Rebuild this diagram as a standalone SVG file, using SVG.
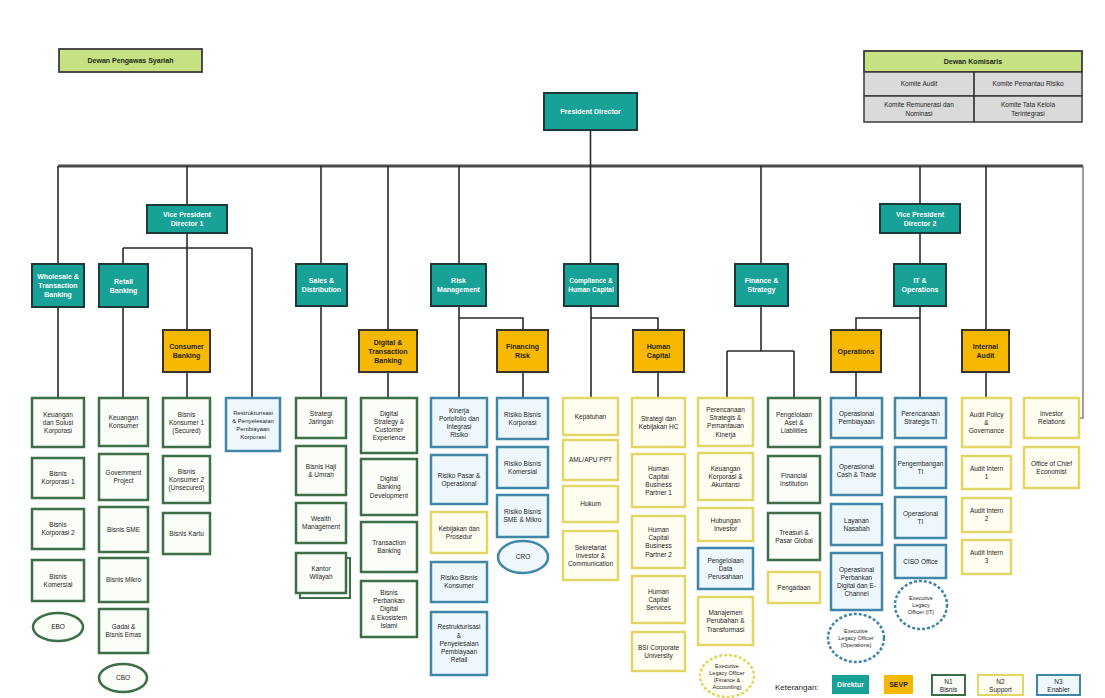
<svg xmlns="http://www.w3.org/2000/svg" width="1105" height="698" viewBox="0 0 1105 698">
<style>
text{font-family:"Liberation Sans",Arial,sans-serif;text-anchor:middle}
.t{fill:#17a197;stroke:#1e3a38;stroke-width:2}
.o{fill:#f6b800;stroke:#3a3328;stroke-width:2}
.g{fill:#fbfdf9;stroke:#3d6e48;stroke-width:2.5}
.y{fill:#fffef1;stroke:#e2d667;stroke-width:2.5}
.b{fill:#eef8fc;stroke:#3f86a8;stroke-width:2.5}
.hd{fill:#c5e184;stroke:#3b3b3b;stroke-width:1.8}
.gr{fill:#dadada;stroke:#3b3b3b;stroke-width:1.5}
.tw{fill:#fff;font-size:7px;font-weight:bold}
.to{fill:#2a2418;font-size:7px;font-weight:bold}
.td{fill:#1d1d1d;font-size:6.5px}
.te{fill:#1d1d1d;font-size:5.5px}
.ln{stroke:#2a2a2a;stroke-width:1.6;fill:none}
.lg{stroke:#888;stroke-width:1.6;fill:none}
</style>
<rect width="1105" height="698" fill="#fff"/>

<g id="connectors">
  <line class="ln" x1="58" y1="166" x2="1083" y2="166" style="stroke:#4a4a4a;stroke-width:3"/>
  <line class="ln" x1="590.5" y1="130" x2="590.5" y2="264"/>
  <path class="ln" d="M58 166V264M58 307V398"/>
  <path class="ln" d="M187 166V205M187 233V330M187 372V398"/>
  <path class="ln" d="M123 248H252M123 248V264M123 307V398M252 248V398"/>
  <path class="ln" d="M321 166V264M321 306V398"/>
  <path class="ln" d="M388 166V330M388 372V398"/>
  <path class="ln" d="M459 166V264M459 306V398M459 318H523V330M523 372V398"/>
  <path class="ln" d="M591 306V398M591 318H658V330M658 372V398"/>
  <path class="ln" d="M761 166V264M761 306V351M727 351H794M727 351V398M794 351V398"/>
  <path class="ln" d="M920 166V204M920 233V264M920 306V398M920 318H856V330M856 372V398"/>
  <path class="ln" d="M986 166V330M986 372V398"/>
  <path class="lg" d="M1083 166V418H1079"/>
</g>

<g id="dps"><rect class="hd" x="59" y="49" width="143" height="23"/><text class="to" x="130.5" y="63" style="fill:#1a2a10">Dewan Pengawas Syariah</text></g>

<g id="dewan-komisaris">
  <rect class="hd" x="864" y="51" width="218" height="21"/>
  <rect class="gr" x="864" y="72" width="218" height="24"/>
  <rect class="gr" x="864" y="96" width="218" height="26"/>
  <line class="ln" x1="974" y1="72" x2="974" y2="122"/>
  <text class="to" x="973" y="64" style="fill:#1a2a10">Dewan Komisaris</text>
  <text class="td" x="919" y="86">Komite Audit</text>
  <text class="td" x="1028" y="86">Komite Pemantau Risiko</text>
  <text class="td" x="919" y="107">Komite Remunerasi dan<tspan x="919" dy="8.5">Nominasi</tspan></text>
  <text class="td" x="1028" y="107">Komite Tata Kelola<tspan x="1028" dy="8.5">Terintegrasi</tspan></text>
</g>

<g id="president"><rect class="t" x="544" y="93" width="93" height="37"/><text class="tw" x="590.5" y="114">President Director</text></g>

<g id="vpd1"><rect class="t" x="147" y="205" width="80" height="28"/><text class="tw" x="187" y="217">Vice President<tspan x="187" dy="9">Director 1</tspan></text></g>
<g id="vpd2"><rect class="t" x="880" y="204" width="80" height="29"/><text class="tw" x="920" y="216.5">Vice President<tspan x="920" dy="9">Director 2</tspan></text></g>

<g id="wholesale"><rect class="t" x="32" y="264" width="52" height="43"/><text class="tw" x="58" y="279">Wholesale &amp;<tspan x="58" dy="9">Transaction</tspan><tspan x="58" dy="9">Banking</tspan></text></g>
<g id="retail"><rect class="t" x="99" y="264" width="49" height="43"/><text class="tw" x="123.5" y="283.5">Retail<tspan x="123.5" dy="9">Banking</tspan></text></g>
<g id="consumer"><rect class="o" x="163" y="330" width="47" height="42"/><text class="to" x="186.5" y="349">Consumer<tspan x="186.5" dy="9">Banking</tspan></text></g>
<g id="sales"><rect class="t" x="296" y="264" width="51" height="42"/><text class="tw" x="321.5" y="283">Sales &amp;<tspan x="321.5" dy="9">Distribution</tspan></text></g>
<g id="digital"><rect class="o" x="359" y="330" width="58" height="42"/><text class="to" x="388" y="344.5">Digital &amp;<tspan x="388" dy="9">Transaction</tspan><tspan x="388" dy="9">Banking</tspan></text></g>
<g id="risk"><rect class="t" x="431" y="264" width="55" height="42"/><text class="tw" x="458.5" y="283">Risk<tspan x="458.5" dy="9">Management</tspan></text></g>
<g id="financing-risk"><rect class="o" x="497" y="330" width="51" height="42"/><text class="to" x="522.5" y="349">Financing<tspan x="522.5" dy="9">Risk</tspan></text></g>
<g id="compliance"><rect class="t" x="564" y="264" width="54" height="42"/><text class="tw" x="591" y="283" style="font-size:6.5px">Compliance &amp;<tspan x="591" dy="9">Human Capital</tspan></text></g>
<g id="human-capital"><rect class="o" x="633" y="330" width="51" height="42"/><text class="to" x="658.5" y="349">Human<tspan x="658.5" dy="9">Capital</tspan></text></g>
<g id="finance"><rect class="t" x="735" y="264" width="53" height="42"/><text class="tw" x="761.5" y="283">Finance &amp;<tspan x="761.5" dy="9">Strategy</tspan></text></g>
<g id="it-ops"><rect class="t" x="894" y="264" width="52" height="42"/><text class="tw" x="920" y="283">IT &amp;<tspan x="920" dy="9">Operations</tspan></text></g>
<g id="operations"><rect class="o" x="831" y="330" width="50" height="42"/><text class="to" x="856" y="353.5">Operations</text></g>
<g id="internal-audit"><rect class="o" x="962" y="330" width="47" height="42"/><text class="to" x="985.5" y="349">Internal<tspan x="985.5" dy="9">Audit</tspan></text></g>

<!-- Column 1 -->
<g id="c1-1"><rect class="g" x="32" y="398" width="52" height="49"/><text class="td" x="58" y="416.6">Keuangan<tspan x="58" dy="8.2">dan Solusi</tspan><tspan x="58" dy="8.2">Korporasi</tspan></text></g>
<g id="c1-2"><rect class="g" x="32" y="458" width="52" height="40"/><text class="td" x="58" y="476.2">Bisnis<tspan x="58" dy="8.2">Korporasi 1</tspan></text></g>
<g id="c1-3"><rect class="g" x="32" y="509" width="52" height="40"/><text class="td" x="58" y="527.2">Bisnis<tspan x="58" dy="8.2">Korporasi 2</tspan></text></g>
<g id="c1-4"><rect class="g" x="32" y="560" width="52" height="41"/><text class="td" x="58" y="578.7">Bisnis<tspan x="58" dy="8.2">Komersial</tspan></text></g>
<g id="c1-e"><ellipse cx="58" cy="627" rx="25" ry="14" class="g"/><text class="td" x="58" y="629.3">EBO</text></g>

<!-- Column 2 -->
<g id="c2-1"><rect class="g" x="99" y="398" width="49" height="48"/><text class="td" x="123.5" y="420.2">Keuangan<tspan x="123.5" dy="8.2">Konsumer</tspan></text></g>
<g id="c2-2"><rect class="g" x="99" y="454" width="49" height="46"/><text class="td" x="123.5" y="475.2">Government<tspan x="123.5" dy="8.2">Project</tspan></text></g>
<g id="c2-3"><rect class="g" x="99" y="507" width="49" height="45"/><text class="td" x="123.5" y="531.8">Bisnis SME</text></g>
<g id="c2-4"><rect class="g" x="99" y="558" width="49" height="44"/><text class="td" x="123.5" y="582.3">Bisnis Mikro</text></g>
<g id="c2-5"><rect class="g" x="99" y="609" width="49" height="44"/><text class="td" x="123.5" y="629.2">Gadai &amp;<tspan x="123.5" dy="8.2">Bisnis Emas</tspan></text></g>
<g id="c2-e"><ellipse cx="123" cy="678" rx="24" ry="14" class="g"/><text class="td" x="123" y="680.3">CBO</text></g>

<!-- Column 3 -->
<g id="c3-1"><rect class="g" x="163" y="398" width="47" height="49"/><text class="td" x="186.5" y="416.6">Bisnis<tspan x="186.5" dy="8.2">Konsumer 1</tspan><tspan x="186.5" dy="8.2">(Secured)</tspan></text></g>
<g id="c3-2"><rect class="g" x="163" y="456" width="47" height="47"/><text class="td" x="186.5" y="473.6">Bisnis<tspan x="186.5" dy="8.2">Konsumer 2</tspan><tspan x="186.5" dy="8.2">(Unsecured)</tspan></text></g>
<g id="c3-3"><rect class="g" x="163" y="513" width="47" height="41"/><text class="td" x="186.5" y="535.8">Bisnis Kartu</text></g>

<!-- Column 4 -->
<g id="c4-1"><rect class="b" x="226" y="398" width="54" height="53"/><text class="td" x="253" y="414.5" style="font-size:6px">Restrukturisasi<tspan x="253" dy="8.2">&amp; Penyelesaian</tspan><tspan x="253" dy="8.2">Pembiayaan</tspan><tspan x="253" dy="8.2">Korporasi</tspan></text></g>

<!-- Column 5 -->
<g id="c5-1"><rect class="g" x="296" y="398" width="50" height="40"/><text class="td" x="321" y="416.2">Strategi<tspan x="321" dy="8.2">Jaringan</tspan></text></g>
<g id="c5-2"><rect class="g" x="296" y="446" width="50" height="49"/><text class="td" x="321" y="468.7">Bisnis Haji<tspan x="321" dy="8.2">&amp; Umrah</tspan></text></g>
<g id="c5-3"><rect class="g" x="296" y="503" width="50" height="40"/><text class="td" x="321" y="521.2">Wealth<tspan x="321" dy="8.2">Management</tspan></text></g>
<g id="c5-4"><rect class="g" x="300" y="558" width="50" height="40" style="stroke-width:2"/><rect class="g" x="296" y="553" width="50" height="40"/><text class="td" x="321" y="571.2">Kantor<tspan x="321" dy="8.2">Wilayah</tspan></text></g>

<!-- Column 6 -->
<g id="c6-1"><rect class="g" x="361" y="398" width="56" height="55"/><text class="td" x="389" y="415.5">Digital<tspan x="389" dy="8.2">Strategy &amp;</tspan><tspan x="389" dy="8.2">Customer</tspan><tspan x="389" dy="8.2">Experience</tspan></text></g>
<g id="c6-2"><rect class="g" x="361" y="459" width="56" height="56"/><text class="td" x="389" y="481.1">Digital<tspan x="389" dy="8.2">Banking</tspan><tspan x="389" dy="8.2">Development</tspan></text></g>
<g id="c6-3"><rect class="g" x="361" y="522" width="56" height="50"/><text class="td" x="389" y="545.2">Transaction<tspan x="389" dy="8.2">Banking</tspan></text></g>
<g id="c6-4"><rect class="g" x="361" y="581" width="56" height="56"/><text class="td" x="389" y="594.9">Bisnis<tspan x="389" dy="8.2">Perbankan</tspan><tspan x="389" dy="8.2">Digital</tspan><tspan x="389" dy="8.2">&amp; Ekosistem</tspan><tspan x="389" dy="8.2">Islami</tspan></text></g>

<!-- Column 7 -->
<g id="c7-1"><rect class="b" x="431" y="398" width="56" height="49"/><text class="td" x="459" y="412.5">Kinerja<tspan x="459" dy="8.2">Portofolio dan</tspan><tspan x="459" dy="8.2">Integrasi</tspan><tspan x="459" dy="8.2">Risiko</tspan></text></g>
<g id="c7-2"><rect class="b" x="431" y="455" width="56" height="49"/><text class="td" x="459" y="477.7">Risiko Pasar &amp;<tspan x="459" dy="8.2">Operasional</tspan></text></g>
<g id="c7-3"><rect class="y" x="431" y="512" width="56" height="41"/><text class="td" x="459" y="530.7">Kebijakan dan<tspan x="459" dy="8.2">Prosedur</tspan></text></g>
<g id="c7-4"><rect class="b" x="431" y="562" width="56" height="40"/><text class="td" x="459" y="580.2">Risiko Bisnis<tspan x="459" dy="8.2">Konsumer</tspan></text></g>
<g id="c7-5"><rect class="b" x="431" y="612" width="56" height="63"/><text class="td" x="459" y="629.4">Restrukturisasi<tspan x="459" dy="8.2">&amp;</tspan><tspan x="459" dy="8.2">Penyelesaian</tspan><tspan x="459" dy="8.2">Pembiayaan</tspan><tspan x="459" dy="8.2">Retail</tspan></text></g>

<!-- Column 8 -->
<g id="c8-1"><rect class="b" x="497" y="398" width="51" height="41"/><text class="td" x="522.5" y="416.7">Risiko Bisnis<tspan x="522.5" dy="8.2">Korporasi</tspan></text></g>
<g id="c8-2"><rect class="b" x="497" y="447" width="51" height="41"/><text class="td" x="522.5" y="465.7">Risiko Bisnis<tspan x="522.5" dy="8.2">Komersial</tspan></text></g>
<g id="c8-3"><rect class="b" x="497" y="495" width="51" height="42"/><text class="td" x="522.5" y="514.2">Risiko Bisnis<tspan x="522.5" dy="8.2">SME &amp; Mikro</tspan></text></g>
<g id="c8-e"><ellipse cx="523" cy="557" rx="25" ry="16" class="b"/><text class="td" x="523" y="559.3">CRO</text></g>

<!-- Column 9 -->
<g id="c9-1"><rect class="y" x="563" y="398" width="55" height="37"/><text class="td" x="590.5" y="418.8">Kepatuhan</text></g>
<g id="c9-2"><rect class="y" x="563" y="440" width="55" height="40"/><text class="td" x="590.5" y="462.3">AML/APU PPT</text></g>
<g id="c9-3"><rect class="y" x="563" y="486" width="55" height="36"/><text class="td" x="590.5" y="506.3">Hukum</text></g>
<g id="c9-4"><rect class="y" x="563" y="531" width="55" height="49"/><text class="td" x="590.5" y="549.6">Sekretariat<tspan x="590.5" dy="8.2">Investor &amp;</tspan><tspan x="590.5" dy="8.2">Communication</tspan></text></g>

<!-- Column 10 -->
<g id="c10-1"><rect class="y" x="632" y="398" width="53" height="49"/><text class="td" x="658.5" y="420.7">Strategi dan<tspan x="658.5" dy="8.2">Kebijakan HC</tspan></text></g>
<g id="c10-2"><rect class="y" x="632" y="454" width="53" height="53"/><text class="td" x="658.5" y="470.5">Human<tspan x="658.5" dy="8.2">Capital</tspan><tspan x="658.5" dy="8.2">Business</tspan><tspan x="658.5" dy="8.2">Partner 1</tspan></text></g>
<g id="c10-3"><rect class="y" x="632" y="516" width="53" height="52"/><text class="td" x="658.5" y="532">Human<tspan x="658.5" dy="8.2">Capital</tspan><tspan x="658.5" dy="8.2">Business</tspan><tspan x="658.5" dy="8.2">Partner 2</tspan></text></g>
<g id="c10-4"><rect class="y" x="632" y="576" width="53" height="47"/><text class="td" x="658.5" y="593.6">Human<tspan x="658.5" dy="8.2">Capital</tspan><tspan x="658.5" dy="8.2">Services</tspan></text></g>
<g id="c10-5"><rect class="y" x="632" y="632" width="53" height="39"/><text class="td" x="658.5" y="649.7">BSI Corporate<tspan x="658.5" dy="8.2">University</tspan></text></g>

<!-- Column 11 -->
<g id="c11-1"><rect class="y" x="698" y="398" width="55" height="48"/><text class="td" x="725.5" y="412">Perencanaan<tspan x="725.5" dy="8.2">Strategis &amp;</tspan><tspan x="725.5" dy="8.2">Pemantauan</tspan><tspan x="725.5" dy="8.2">Kinerja</tspan></text></g>
<g id="c11-2"><rect class="y" x="698" y="453" width="55" height="47"/><text class="td" x="725.5" y="470.6">Keuangan<tspan x="725.5" dy="8.2">Korporasi &amp;</tspan><tspan x="725.5" dy="8.2">Akuntansi</tspan></text></g>
<g id="c11-3"><rect class="y" x="698" y="508" width="55" height="33"/><text class="td" x="725.5" y="522.7">Hubungan<tspan x="725.5" dy="8.2">Investor</tspan></text></g>
<g id="c11-4"><rect class="b" x="698" y="548" width="55" height="41"/><text class="td" x="725.5" y="562.6">Pengelolaan<tspan x="725.5" dy="8.2">Data</tspan><tspan x="725.5" dy="8.2">Perusahaan</tspan></text></g>
<g id="c11-5"><rect class="y" x="698" y="597" width="55" height="48"/><text class="td" x="725.5" y="615.1">Manajemen<tspan x="725.5" dy="8.2">Perubahan &amp;</tspan><tspan x="725.5" dy="8.2">Transformasi</tspan></text></g>
<g id="c11-e"><ellipse cx="727" cy="676" rx="27" ry="21" class="y" style="stroke-dasharray:3 2;fill:#fffdf2"/><text class="te" x="727" y="667.5">Executive<tspan x="727" dy="7">Legacy Officer</tspan><tspan x="727" dy="7">(Finance &amp;</tspan><tspan x="727" dy="7">Accounting)</tspan></text></g>

<!-- Column 12 -->
<g id="c12-1"><rect class="g" x="768" y="398" width="52" height="49"/><text class="td" x="794" y="416.6">Pengelolaan<tspan x="794" dy="8.2">Aset &amp;</tspan><tspan x="794" dy="8.2">Liabilities</tspan></text></g>
<g id="c12-2"><rect class="g" x="768" y="456" width="52" height="47"/><text class="td" x="794" y="477.7">Financial<tspan x="794" dy="8.2">Institution</tspan></text></g>
<g id="c12-3"><rect class="g" x="768" y="513" width="52" height="47"/><text class="td" x="794" y="534.7">Treasuri &amp;<tspan x="794" dy="8.2">Pasar Global</tspan></text></g>
<g id="c12-4"><rect class="y" x="768" y="572" width="52" height="31"/><text class="td" x="794" y="589.8">Pengadaan</text></g>

<!-- Column 13 -->
<g id="c13-1"><rect class="b" x="831" y="398" width="51" height="40"/><text class="td" x="856.5" y="416.2">Operasional<tspan x="856.5" dy="8.2">Pembiayaan</tspan></text></g>
<g id="c13-2"><rect class="b" x="831" y="447" width="51" height="48"/><text class="td" x="856.5" y="469.2">Operasional<tspan x="856.5" dy="8.2">Cash &amp; Trade</tspan></text></g>
<g id="c13-3"><rect class="b" x="831" y="504" width="51" height="41"/><text class="td" x="856.5" y="522.7">Layanan<tspan x="856.5" dy="8.2">Nasabah</tspan></text></g>
<g id="c13-4"><rect class="b" x="831" y="553" width="51" height="57"/><text class="td" x="856.5" y="571.5">Operasional<tspan x="856.5" dy="8.2">Perbankan</tspan><tspan x="856.5" dy="8.2">Digital dan E-</tspan><tspan x="856.5" dy="8.2">Channel</tspan></text></g>
<g id="c13-e"><ellipse cx="856" cy="638" rx="28" ry="24" class="b" style="stroke-dasharray:3 2;fill:#fff"/><text class="te" x="856" y="633">Executive<tspan x="856" dy="7">Legacy Officer</tspan><tspan x="856" dy="7">(Operations)</tspan></text></g>

<!-- Column 14 -->
<g id="c14-1"><rect class="b" x="895" y="398" width="51" height="40"/><text class="td" x="920.5" y="416.2">Perencanaan<tspan x="920.5" dy="8.2">Strategis TI</tspan></text></g>
<g id="c14-2"><rect class="b" x="895" y="447" width="51" height="41"/><text class="td" x="920.5" y="465.7">Pengembangan<tspan x="920.5" dy="8.2">TI</tspan></text></g>
<g id="c14-3"><rect class="b" x="895" y="497" width="51" height="41"/><text class="td" x="920.5" y="515.7">Operasional<tspan x="920.5" dy="8.2">TI</tspan></text></g>
<g id="c14-4"><rect class="b" x="895" y="545" width="51" height="33"/><text class="td" x="920.5" y="563.8">CISO Office</text></g>
<g id="c14-e"><ellipse cx="921" cy="605" rx="26" ry="24" class="b" style="stroke-dasharray:3 2;fill:#fff"/><text class="te" x="921" y="600">Executive<tspan x="921" dy="7">Legacy</tspan><tspan x="921" dy="7">Officer (IT)</tspan></text></g>

<!-- Column 15 -->
<g id="c15-1"><rect class="y" x="962" y="398" width="49" height="49"/><text class="td" x="986.5" y="416.6">Audit Policy<tspan x="986.5" dy="8.2">&amp;</tspan><tspan x="986.5" dy="8.2">Governance</tspan></text></g>
<g id="c15-2"><rect class="y" x="962" y="456" width="49" height="33"/><text class="td" x="986.5" y="470.7">Audit Intern<tspan x="986.5" dy="8.2">1</tspan></text></g>
<g id="c15-3"><rect class="y" x="962" y="498" width="49" height="34"/><text class="td" x="986.5" y="513.2">Audit Intern<tspan x="986.5" dy="8.2">2</tspan></text></g>
<g id="c15-4"><rect class="y" x="962" y="540" width="49" height="34"/><text class="td" x="986.5" y="555.2">Audit Intern<tspan x="986.5" dy="8.2">3</tspan></text></g>

<!-- Column 16 -->
<g id="c16-1"><rect class="y" x="1024" y="398" width="55" height="40"/><text class="td" x="1051.5" y="416.2">Investor<tspan x="1051.5" dy="8.2">Relations</tspan></text></g>
<g id="c16-2"><rect class="y" x="1024" y="447" width="55" height="41"/><text class="td" x="1051.5" y="465.7">Office of Chief<tspan x="1051.5" dy="8.2">Economist</tspan></text></g>

<!-- Legend -->
<g id="legend">
  <text class="td" x="775" y="690" style="text-anchor:start;font-size:8px">Keterangan:</text>
  <rect x="832" y="675" width="37" height="19" fill="#17a197"/><text class="tw" x="850.5" y="687">Direktur</text>
  <rect x="884" y="675" width="29" height="19" fill="#f6b800"/><text class="to" x="898.5" y="687">SEVP</text>
  <rect class="g" x="932" y="675" width="33" height="20" style="stroke-width:2"/><text class="td" x="948.5" y="684">N1<tspan x="948.5" dy="7.5">Bisnis</tspan></text>
  <rect class="y" x="978" y="675" width="45" height="20" style="stroke-width:2"/><text class="td" x="1000.5" y="684">N2<tspan x="1000.5" dy="7.5">Support</tspan></text>
  <rect class="b" x="1037" y="675" width="43" height="20" style="stroke-width:2"/><text class="td" x="1058.5" y="684">N3<tspan x="1058.5" dy="7.5">Enabler</tspan></text>
</g>
</svg>
